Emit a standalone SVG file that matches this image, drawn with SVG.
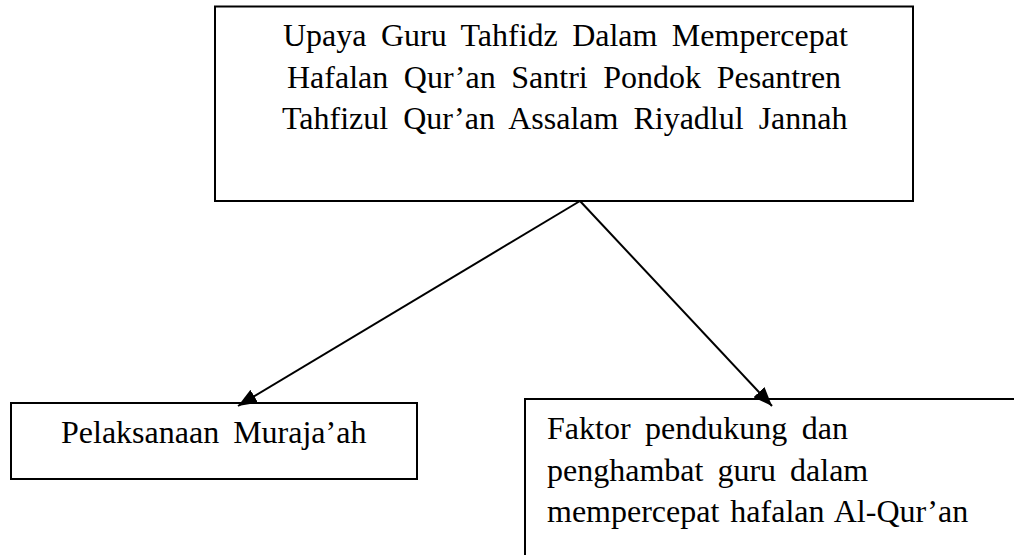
<svg xmlns="http://www.w3.org/2000/svg" width="1014" height="555" viewBox="0 0 1014 555">
<defs>
<style>
.box{fill:#fff;stroke:#000;stroke-width:2}
.t{font-family:"Liberation Serif","Times New Roman",serif;font-size:32px;fill:#000;word-spacing:6px}
.conn{stroke:#000;stroke-width:2;fill:none;marker-end:url(#ah)}
</style>
<marker id="ah" markerUnits="userSpaceOnUse" markerWidth="19" markerHeight="15" viewBox="0 0 19 15" refX="19" refY="7.5" orient="auto">
<path d="M0,0 L19,7.5 L0,15 z" fill="#000"/>
</marker>
</defs>
<rect width="1014" height="555" fill="#fff"/>
<g id="node-top">
<rect class="box" x="215" y="6.5" width="698" height="194.5"/>
<text class="t" x="283" y="46" style="word-spacing:6.4px">Upaya Guru Tahfidz Dalam Mempercepat</text>
<text class="t" x="287" y="88" style="word-spacing:7.6px">Hafalan Qur’an Santri Pondok Pesantren</text>
<text class="t" x="282" y="129" style="word-spacing:7px">Tahfizul Qur’an Assalam Riyadlul Jannah</text>
</g>
<g id="node-left">
<rect class="box" x="11" y="403" width="406" height="76"/>
<text class="t" x="61" y="443">Pelaksanaan Muraja’ah</text>
</g>
<g id="node-right">
<rect class="box" x="525" y="399" width="500" height="200"/>
<text class="t" x="547" y="439" style="word-spacing:6.5px">Faktor pendukung dan</text>
<text class="t" x="547" y="481" style="word-spacing:6px">penghambat guru dalam</text>
<text class="t" x="547" y="522" style="word-spacing:3px">mempercepat hafalan Al-Qur’an</text>
</g>
<g id="connectors">
<line class="conn" x1="580" y1="201" x2="238" y2="406"/>
<line class="conn" x1="580" y1="201" x2="772" y2="406"/>
</g>
</svg>
